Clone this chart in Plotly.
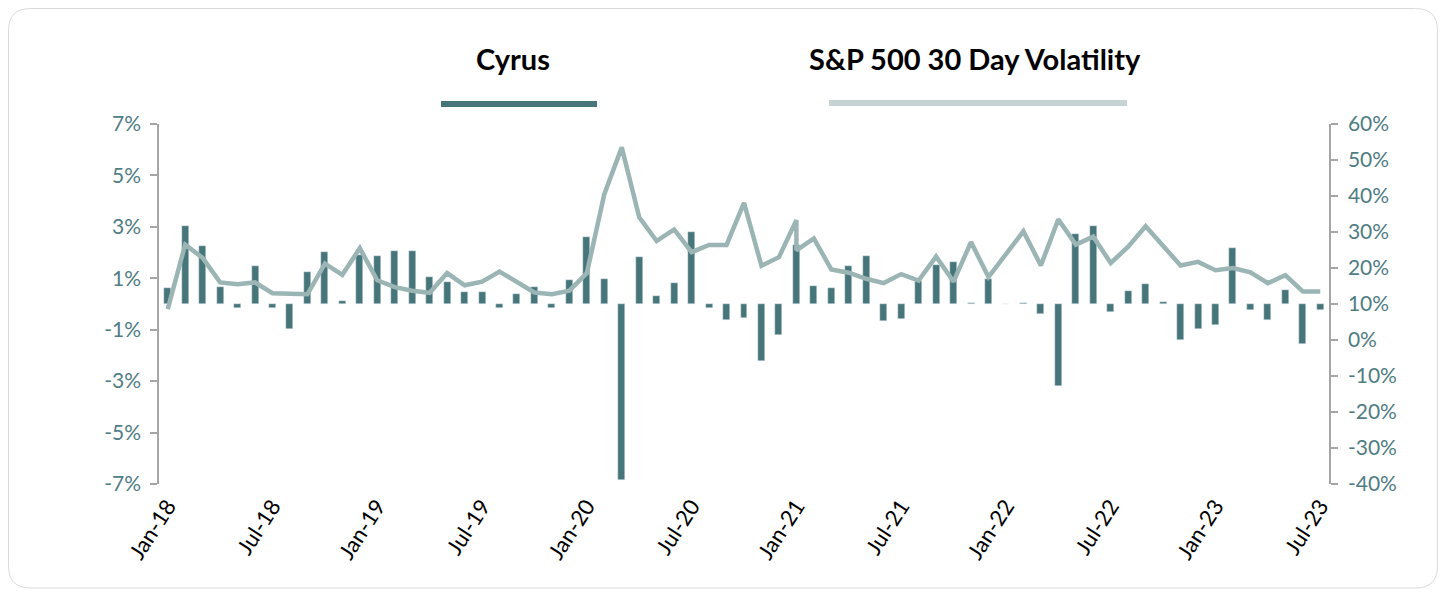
import pandas as pd
import plotly.graph_objects as go

# ---- data ----
months = list(pd.date_range("2018-01-01", "2023-07-01", freq="MS").strftime("%b-%y"))

cyrus = [0.64, 3.04, 2.26, 0.66, -0.16, 1.47, -0.16, -0.99, 1.24, 2.02, 0.12, 1.89, 1.85, 2.05, 2.07, 1.05, 0.85,
         0.46, 0.46, -0.16, 0.39, 0.65, -0.16, 0.92, 2.59, 0.99, -6.83, 1.81, 0.31, 0.81, 2.81, -0.16, -0.61,
         -0.55, -2.22, -1.20, 2.30, 0.69, 0.64, 1.46, 1.86, -0.66, -0.57, 0.88, 1.52, 1.63, 0.05, 0.99, 0.0, 0.05,
         -0.40, -3.19, 2.72, 3.04, -0.31, 0.49, 0.78, 0.09, -1.40, -0.96, -0.82, 2.16, -0.25, -0.61, 0.56, -1.56, -0.25]

# volatility observations (Jan-21 has two observations)
vol_months = months[:37] + ["Jan-21"] + months[37:]
vol = [8.6, 26.5, 22.8, 16.0, 15.5, 16.0, 13.0, 13.0, 12.7, 21.2, 18.1, 25.5, 16.6, 14.7, 13.7, 13.1, 18.6,
       15.2, 16.2, 19.0, 16.2, 13.2, 12.7, 13.7, 18.6, 40.5, 53.5, 34.1, 27.5, 30.7, 24.4, 26.4, 26.4,
       38.1, 20.6, 23.0, 33.3, 24.9,
       28.2, 19.6, 18.7, 17.0, 15.8, 18.3, 16.5, 23.2, 16.2, 27.2, 17.5, 23.8, 30.2,
       20.7, 33.5, 26.5, 28.7, 21.4, 25.9, 31.6, 26.1, 20.7, 21.7, 19.4, 20.0, 18.8, 15.8, 18.0, 13.5, 13.5]

x_ticklabels = ["Jan-18", "Jul-18", "Jan-19", "Jul-19", "Jan-20", "Jul-20", "Jan-21", "Jul-21",
                "Jan-22", "Jul-22", "Jan-23", "Jul-23"]
left_tickvals = [7, 5, 3, 1, -1, -3, -5, -7]
left_ticktext = ["7%", "5%", "3%", "1%", "-1%", "-3%", "-5%", "-7%"]
right_tickvals = [60, 50, 40, 30, 20, 10, 0, -10, -20, -30, -40]
right_ticktext = ["60%", "50%", "40%", "30%", "20%", "10%", "0%", "-10%", "-20%", "-30%", "-40%"]
series_names = ["Cyrus", "S&P 500 30 Day Volatility"]

# ---- styling ----
OFF = 8  # page body margin offset
W, H = 1446 - OFF, 592 - OFF
L, R, T, B = 159 - OFF, 117, 124 - OFF, 108
BAR_C = "#46757a"
LINE_C = "#9bb4b4"
LEG2_C = "#c6d3d4"
TICK_C = "#4f7d83"
AXIS_C = "#a6a6a6"
FONT = "Lato"

pw, ph = W - L - R, H - T - B
def px(x):  # page pixel -> paper
    return (x - OFF - L) / pw
def py(y):
    return (H - B - (y - OFF)) / ph

bar_x = [months.index(m) for m in months]
vol_x = [months.index(m) for m in vol_months]

fig = go.Figure()
fig.add_trace(go.Bar(x=bar_x, y=cyrus, name=series_names[0], marker_color=BAR_C,
                     width=0.4, yaxis="y", showlegend=False))
fig.add_trace(go.Scatter(x=vol_x, y=vol, name=series_names[1], mode="lines",
                         line=dict(color=LINE_C, width=4.5), yaxis="y2", showlegend=False))

# rounded border
x0, x1, y0, y1, r = 8.5, 1437.5, 8.5, 588, 22
path = (f"M {px(x0+r)},{py(y0)} L {px(x1-r)},{py(y0)} Q {px(x1)},{py(y0)} {px(x1)},{py(y0+r)} "
        f"L {px(x1)},{py(y1-r)} Q {px(x1)},{py(y1)} {px(x1-r)},{py(y1)} "
        f"L {px(x0+r)},{py(y1)} Q {px(x0)},{py(y1)} {px(x0)},{py(y1-r)} "
        f"L {px(x0)},{py(y0+r)} Q {px(x0)},{py(y0)} {px(x0+r)},{py(y0)} Z")
shapes = [
    dict(type="path", path=path, xref="paper", yref="paper", line=dict(color="#d9d9d9", width=1), layer="below"),
    dict(type="line", xref="paper", yref="paper", x0=px(441), x1=px(597), y0=py(104), y1=py(104),
         line=dict(color=BAR_C, width=6)),
    dict(type="line", xref="paper", yref="paper", x0=px(829), x1=px(1127), y0=py(103), y1=py(103),
         line=dict(color=LEG2_C, width=6)),
]
annotations = [
    dict(text=f"<b>{series_names[0]}</b>", xref="paper", yref="paper", x=px(513), y=py(58),
         showarrow=False, font=dict(family=FONT, size=29, color="#000000"), xanchor="center", yanchor="middle"),
    dict(text=f"<b>{series_names[1]}</b>", xref="paper", yref="paper", x=px(975), y=py(58),
         showarrow=False, font=dict(family=FONT, size=29, color="#000000"), xanchor="center", yanchor="middle"),
]

fig.update_layout(
    width=W, height=H,
    margin=dict(l=L, r=R, t=T, b=B, pad=0),
    paper_bgcolor="white", plot_bgcolor="white",
    shapes=shapes, annotations=annotations,
    bargap=0,
    xaxis=dict(range=[-0.5, len(months) - 0.5], tickvals=[months.index(t) for t in x_ticklabels],
               ticktext=x_ticklabels, tickangle=-57, showgrid=False, zeroline=False, showline=False,
               ticks="", ticklabelstandoff=4, tickfont=dict(family=FONT, size=22, color="#000000")),
    yaxis=dict(range=[-7, 7], tickvals=left_tickvals, ticktext=left_ticktext, showgrid=False, zeroline=False,
               showline=True, linecolor=AXIS_C, linewidth=1.5, ticks="outside", ticklen=7, tickcolor=AXIS_C,
               tickwidth=1.5, ticklabelstandoff=5, tickfont=dict(family=FONT, size=21, color=TICK_C)),
    yaxis2=dict(range=[-40, 60], tickvals=right_tickvals, ticktext=right_ticktext, overlaying="y", side="right",
                showgrid=False, zeroline=False, showline=True, linecolor=AXIS_C, linewidth=1.5, ticks="outside",
                ticklen=7, tickcolor=AXIS_C, tickwidth=1.5, ticklabelstandoff=6,
                tickfont=dict(family=FONT, size=21, color=TICK_C)),
)

fig.write_html("out.html")
